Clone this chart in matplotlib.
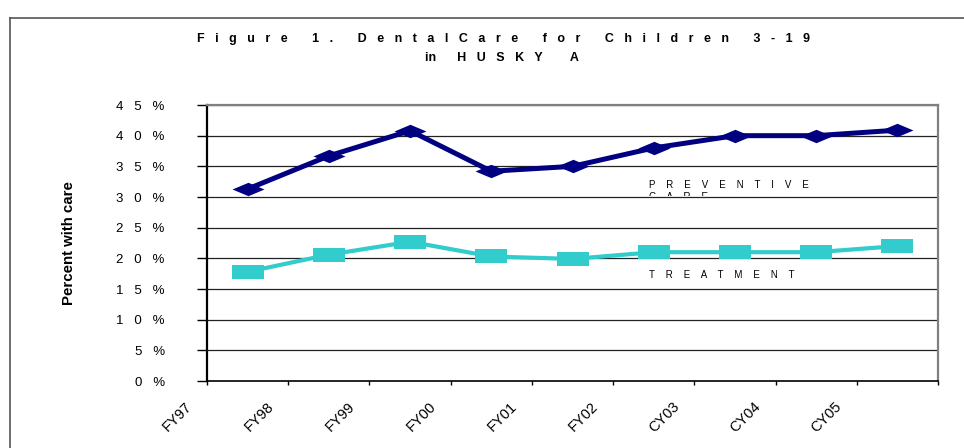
import matplotlib
matplotlib.use("Agg")
from matplotlib import pyplot as plt
from matplotlib.lines import Line2D
from matplotlib.patches import Rectangle
from matplotlib.transforms import ScaledTranslation

# data
years = ["FY97", "FY98", "FY99", "FY00", "FY01", "FY02", "CY03", "CY04", "CY05"]
preventive = [31.3, 36.7, 40.8, 34.2, 35.0, 38.0, 40.0, 40.0, 40.9]
treatment = [17.8, 20.6, 22.7, 20.3, 19.9, 21.0, 21.0, 21.0, 22.0]
y_ticks = [0, 5, 10, 15, 20, 25, 30, 35, 40, 45]

plt.rcParams["font.family"] = ["Liberation Sans", "DejaVu Sans"]


def track(s, n=3):
    # spread the letters out like the wide-tracked original text
    return (" " * n).join(s)


fig = plt.figure(figsize=(9.64, 4.48), dpi=100)
ax = fig.add_axes([207 / 964, 67 / 448, 731 / 964, 276 / 448])

# outer chart frame (cut off at right and bottom)
fig.add_artist(Line2D([10 / 964, 10 / 964], [0, 1 - 18 / 448], color="#555555", lw=1.2))
fig.add_artist(Line2D([10 / 964, 1], [1 - 18 / 448, 1 - 18 / 448], color="#555555", lw=1.2))

# squashed marker shapes (the original looks stretched horizontally)
diamond = [(-1, 0), (0, 0.42), (1, 0), (0, -0.42), (-1, 0)]
square = [(-1, -0.44), (1, -0.44), (1, 0.44), (-1, 0.44), (-1, -0.44)]

x = [i + 0.5 for i in range(len(years))]
ax.plot(x, preventive, color="#000080", lw=3.6, marker=diamond, markersize=23,
        markeredgewidth=0, zorder=4)
ax.plot(x, treatment, color="#33CCCC", lw=3.0, marker=square, markersize=23,
        markeredgewidth=0, zorder=4)

ax.set_xlim(0, len(years))
ax.set_ylim(0, 45)

# gridlines
for v in y_ticks[1:]:
    ax.axhline(v, color="#222222", lw=0.9, zorder=1)

# spines
ax.spines["left"].set_linewidth(1.6)
ax.spines["bottom"].set_linewidth(1.2)
for side in ["top", "right"]:
    ax.spines[side].set_color("#808080")
    ax.spines[side].set_linewidth(1.6)

# y axis
ax.set_yticks(y_ticks)
ax.set_yticklabels([track(str(v)) + "   %" for v in y_ticks], fontsize=9.5)
ax.tick_params(axis="y", direction="out", length=7.5, width=1, pad=23)

# x axis: ticks on category boundaries, labels shifted left of each tick
ax.set_xticks(range(len(years) + 1))
ax.set_xticklabels(years + [""], fontsize=10.5, rotation=45, ha="right",
                   va="center", rotation_mode="anchor")
ax.tick_params(axis="x", direction="out", length=3, width=1, pad=14)
shift = ScaledTranslation(-17 / 100, 0, fig.dpi_scale_trans)
for lab in ax.get_xticklabels():
    lab.set_transform(lab.get_transform() + shift)

ax.set_ylabel("Percent with care", fontsize=10.8, fontweight="bold", labelpad=29)

# series labels inside the plot; the second line of the first one is cut off
prev_txt = ax.text(5.44, 32.85, track("PREVENTIVE", 4) + "\n" + track("CARE", 4),
                   fontsize=7, va="top", ha="left", linespacing=1.3, zorder=3)
clip = Rectangle((0, 30.2), 9, 10, transform=ax.transData, visible=False)
ax.add_patch(clip)
prev_txt.set_clip_path(clip)
prev_txt.set_clip_on(True)
ax.text(5.44, 17.3, track("TREATMENT", 4), fontsize=7, va="center", ha="left", zorder=3)

# title
fig.text(503 / 964, 1 - 39 / 448, track("Figure 1. DentalCare for Children 3-19"),
         fontsize=9, fontweight="bold", ha="center", va="center")
fig.text(502 / 964, 1 - 58 / 448, "in" + " " * 6 + track("HUSKY", 3) + " " * 8 + "A",
         fontsize=9, fontweight="bold", ha="center", va="center")

fig.savefig("out.png", dpi=100)
plt.close()
